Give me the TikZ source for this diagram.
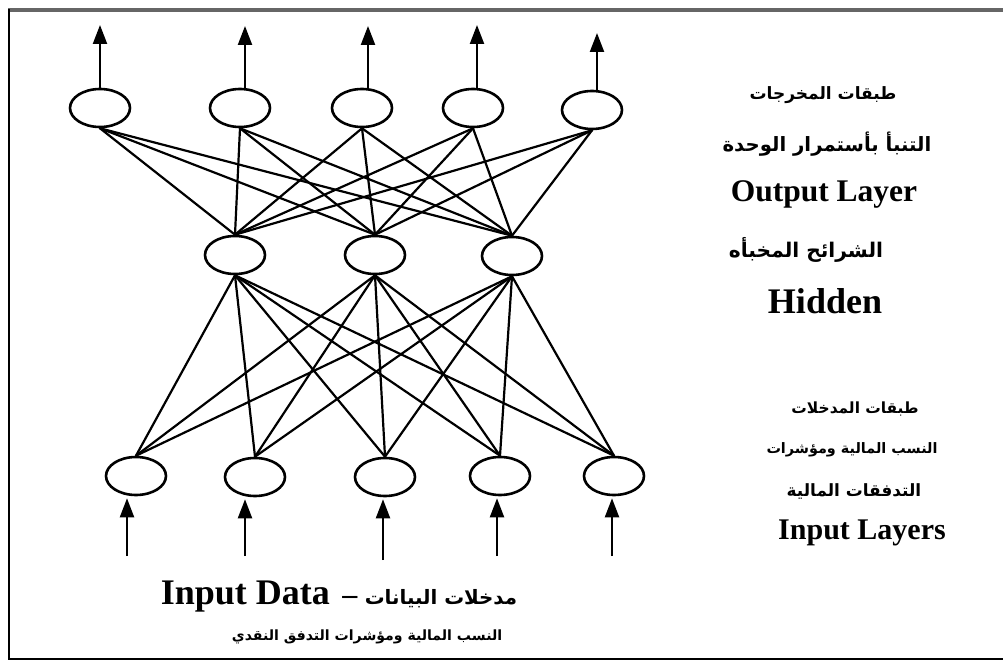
\documentclass[tikz,border=0pt]{standalone}
\usepackage{fontspec}
\setmainfont{Liberation Serif}
\newfontfamily\arabicfont[Script=Arabic]{DejaVu Sans}
\TeXXeTstate=1
\usetikzlibrary{arrows.meta,shapes.geometric}

\begin{document}
\begin{tikzpicture}[x=1pt,y=-1pt,
  neuron/.style={draw, ellipse, line width=2.6pt, minimum width=60pt,
    minimum height=38pt, inner sep=0pt},
  link/.style={line width=2.2pt, line cap=round},
  flow/.style={line width=2.2pt, -{Triangle[length=19pt,width=14pt]}},
  artext/.style={font=\arabicfont\bfseries\fontsize{#1}{#1}\selectfont, inner sep=0pt},
  entext/.style={font=\bfseries\fontsize{#1}{#1}\selectfont, inner sep=0pt}]

\useasboundingbox (0,0) rectangle (1003,663);

% frame
\draw[line width=4pt, gray!80!black] (8,10) -- (1003,10);
\draw[line width=2pt] (9,9) -- (9,659) -- (1003,659);

% output layer
\node[neuron] (o1) at (100,108) {};
\node[neuron] (o2) at (240,108) {};
\node[neuron] (o3) at (362,108) {};
\node[neuron] (o4) at (473,108) {};
\node[neuron] (o5) at (592,110) {};

% hidden layer
\node[neuron] (h1) at (235,255) {};
\node[neuron] (h2) at (375,255) {};
\node[neuron] (h3) at (512,256) {};

% input layer
\node[neuron] (i1) at (136,476) {};
\node[neuron] (i2) at (255,477) {};
\node[neuron] (i3) at (385,477) {};
\node[neuron] (i4) at (500,476) {};
\node[neuron] (i5) at (614,476) {};

% connections
\foreach \o in {o1,o2,o3,o4,o5}
  \foreach \h in {h1,h2,h3}
    \draw[link] (\o.south) -- (\h.north);
\foreach \h in {h1,h2,h3}
  \foreach \i in {i1,i2,i3,i4,i5}
    \draw[link] (\h.south) -- (\i.north);

% outgoing arrows
\coordinate (a1) at (100,25);
\coordinate (a2) at (245,26);
\coordinate (a3) at (368,26);
\coordinate (a4) at (477,25);
\coordinate (a5) at (597,33);
\foreach \k in {1,...,5}
  \draw[flow] (a\k |- o\k.north) -- (a\k);

% incoming arrows
\coordinate (b1) at (127,556);
\coordinate (b2) at (245,556);
\coordinate (b3) at (383,560);
\coordinate (b4) at (497,556);
\coordinate (b5) at (612,556);
\foreach \k in {1,...,5}
  \draw[flow, shorten >=2pt] (b\k) -- (b\k |- i\k.south);

% labels
\node[artext=17] (t1) at (823,95) {\beginR طبقات المخرجات\endR};
\node[artext=19.7] (t2) at (827,144) {\beginR التنبأ بأستمرار الوحدة\endR};
\node[entext=31.5] (t3) at (824,194) {Output Layer};
\node[artext=20.2] (t4) at (806,250) {\beginR الشرائح المخبأه\endR};
\node[entext=36] (t5) at (825,301) {Hidden};
\node[artext=15.4] (t6) at (855,409) {\beginR طبقات المدخلات\endR};
\node[artext=14.4] (t7) at (852,450) {\beginR النسب المالية ومؤشرات\endR};
\node[artext=16.9] (t8) at (854,491) {\beginR التدفقات المالية\endR};
\node[entext=30] (t9) at (862,533) {Input Layers};
\node[inner sep=0pt] (t10) at (339,597)
  {\bfseries\fontsize{36}{36}\selectfont Input Data\fontsize{30}{30}\selectfont\ \,–\ {\arabicfont\fontsize{19.8}{19.8}\selectfont\beginR مدخلات البيانات\endR}};
\node[artext=14.1] (t11) at (367,637) {\beginR النسب المالية ومؤشرات التدفق النقدي\endR};
\end{tikzpicture}
\end{document}
